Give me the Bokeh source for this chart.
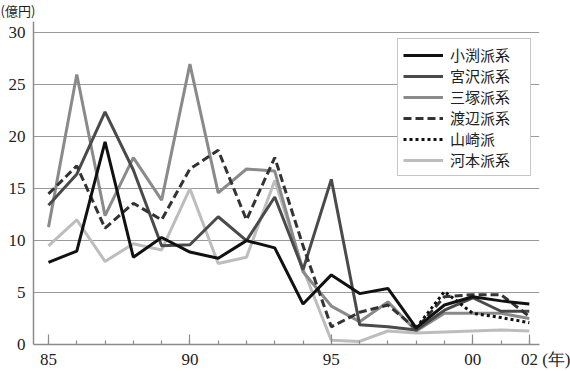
import math
from bokeh.plotting import figure
from bokeh.models import Legend, LegendItem, FixedTicker, Range1d
from bokeh.embed import file_html
from bokeh.resources import INLINE

NAN = float("nan")

years = list(range(1985, 2003))
obuchi    = [7.9, 9.0, 19.5, 8.4, 10.3, 8.9, 8.3, 10.0, 9.3, 3.9, 6.7, 4.9, 5.4, 1.6, 3.8, 4.6, 4.2, 3.9]
miyazawa  = [13.4, 16.4, 22.4, 16.8, 9.5, 9.6, 12.3, 10.0, 14.2, 7.2, 15.9, 1.9, 1.7, 1.4, 3.3, 4.5, 3.2, 3.2]
mitsuzuka = [11.3, 26.0, 12.4, 18.0, 13.9, 27.0, 14.6, 16.9, 16.7, 7.0, 3.7, 2.2, 4.1, 1.3, 3.0, 3.0, 3.0, 2.5]
watanabe  = [14.5, 17.2, 11.2, 13.6, 12.0, 16.9, 18.7, 12.0, 18.0, 9.5, 1.7, 3.1, 3.8, 1.5, 4.6, 4.8, 4.8, 2.7]
yamasaki  = [NAN] * 13 + [1.6, 5.1, 3.0, 2.6, 2.1]
kono      = [9.5, 12.0, 8.0, 9.7, 9.1, 15.0, 7.8, 8.4, 15.8, 7.3, 0.4, 0.3, 1.3, 1.1, 1.2, 1.3, 1.4, 1.3]

names = ["小渕派系", "宮沢派系", "三塚派系", "渡辺派系", "山崎派", "河本派系"]
x_major = [1985, 1990, 1995, 2000, 2002]
x_labels = ["85", "90", "95", "00", "02"]
x_unit = "(年)"
y_unit = "(億円)"
y_ticks = [0, 5, 10, 15, 20, 25, 30]

SERIF = "Liberation Serif"
CJK = "Noto Sans CJK JP"
AX = "#8c8c8c"
NB = "\u00a0"

p = figure(width=570, height=371, output_backend="svg", toolbar_location=None,
           x_range=Range1d(1984.47, 2002.36), y_range=Range1d(0, 31.1),
           min_border_left=33, min_border_right=31, min_border_top=18, min_border_bottom=24,
           background_fill_color="white", border_fill_color="white")
p.outline_line_color = None

# unit caption (top left)
p.title.text = y_unit
p.title.align = "left"
p.title.offset = -33
p.title.standoff = 0
p.title.vertical_align = "top"
p.title.text_font = CJK
p.title.text_font_size = "13px"
p.title.text_font_style = "normal"
p.title.text_color = "#222222"

# x tick labels; the last one also carries the unit to its right
labels = list(x_labels)
labels[-1] = NB * 8 + labels[-1] + NB + x_unit

# axes
p.xaxis.ticker = FixedTicker(ticks=x_major, minor_ticks=years)
p.xaxis.major_label_overrides = {k: v for k, v in zip(x_major, labels)}
p.xaxis.major_tick_in = 10
p.xaxis.major_tick_out = 0
p.xaxis.minor_tick_in = 4
p.xaxis.minor_tick_out = 0
p.xaxis.major_label_standoff = 5
p.yaxis.ticker = FixedTicker(ticks=y_ticks)
p.yaxis.major_tick_in = 0
p.yaxis.major_tick_out = 0
p.yaxis.minor_tick_in = 0
p.yaxis.minor_tick_out = 0
p.yaxis.major_label_standoff = 8
for ax in (p.xaxis, p.yaxis):
    ax.axis_line_color = AX
    ax.axis_line_width = 1.5
    ax.major_tick_line_color = AX
    ax.minor_tick_line_color = AX
    ax.major_tick_line_width = 1.2
    ax.minor_tick_line_width = 1.2
    ax.major_label_text_font = SERIF
    ax.major_label_text_font_size = "17px"
    ax.major_label_text_color = "#222222"
p.xgrid.visible = False
p.ygrid.ticker = FixedTicker(ticks=y_ticks)
p.ygrid.grid_line_color = "#9a9a9a"
p.ygrid.grid_line_width = 1.2

# series
styles = [
    dict(color="#111111", dash="solid"),
    dict(color="#4a4a4a", dash="solid"),
    dict(color="#8a8a8a", dash="solid"),
    dict(color="#333333", dash="8 4"),
    dict(color="#111111", dash="3 3"),
    dict(color="#bdbdbd", dash="solid"),
]
series = [obuchi, miyazawa, mitsuzuka, watanabe, yamasaki, kono]
renderers = [None] * 6
for i in [5, 2, 1, 3, 4, 0]:
    renderers[i] = p.line(years, series[i], line_color=styles[i]["color"], line_width=3,
                          line_dash=styles[i]["dash"])

legend = Legend(items=[LegendItem(label=n, renderers=[r]) for n, r in zip(names, renderers)],
                location=(364, 168), padding=5, spacing=0, glyph_width=40, glyph_height=20,
                label_height=20, label_width=75, label_standoff=7,
                border_line_color="#8c8c8c", border_line_width=1,
                background_fill_color="white", background_fill_alpha=1,
                label_text_font=CJK, label_text_font_size="15px", label_text_color="#222222")
p.add_layout(legend)

open("out.html", "w").write(file_html(p, INLINE))
